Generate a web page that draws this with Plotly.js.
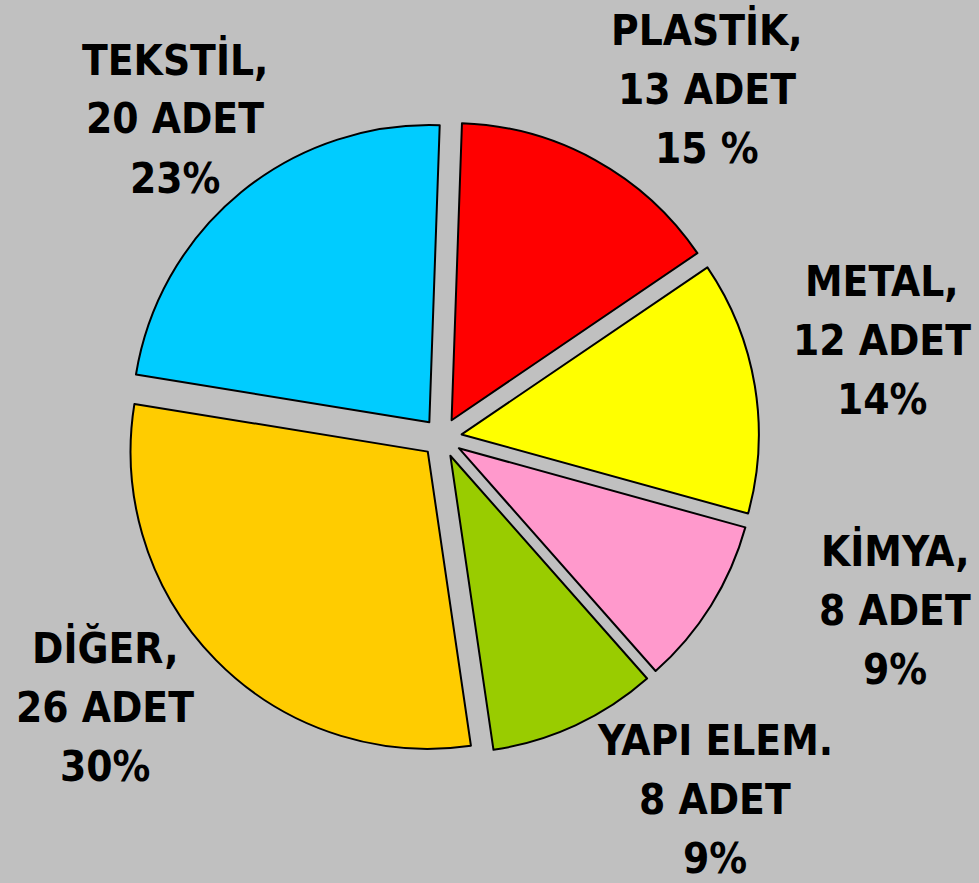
<!DOCTYPE html>
<html>
<head>
<meta charset="utf-8">
<script src="https://cdn.plot.ly/plotly-3.0.1.min.js"></script>
<style>html,body{margin:0;padding:0;background:#c0c0c0;}</style>
</head>
<body>
<div id="chart" style="width:979px;height:883px;"></div>
<script>
// Data
const categories = ["PLASTİK", "METAL", "KİMYA", "YAPI ELEM.", "DİĞER", "TEKSTİL"];
const counts = [13, 12, 8, 8, 26, 20];
const percentLabels = ["15 %", "14%", "9%", "9%", "30%", "23%"];
const colors = ["#FF0000", "#FFFF00", "#FF99CC", "#99CC00", "#FFCC00", "#00CCFF"];

// Label placement (pixel centres of the first text line), style only
const labelPos = [
  {x: 707, y: 30},
  {x: 882, y: 281},
  {x: 895, y: 551},
  {x: 715, y: 740},
  {x: 105, y: 648},
  {x: 175, y: 60}
];
const lineGap = 59;
const W = 979, H = 883;

const annotations = [];
categories.forEach((c, i) => {
  const sep = c.endsWith('.') ? '' : ',';
  const lines = [c + sep, counts[i] + ' ADET', percentLabels[i]];
  lines.forEach((t, k) => {
    annotations.push({
      text: t,
      xref: 'paper', yref: 'paper',
      x: labelPos[i].x / W,
      y: 1 - (labelPos[i].y + k * lineGap) / H,
      xanchor: 'center', yanchor: 'middle',
      showarrow: false,
      font: {family: 'DejaVu Sans Condensed, DejaVu Sans, sans-serif', size: 42, color: '#000', weight: 'bold'}
    });
  });
});

const trace = {
  type: 'pie',
  labels: categories,
  values: counts,
  sort: false,
  direction: 'clockwise',
  rotation: 2,
  pull: counts.map(() => 0.067),
  marker: {colors: colors, line: {color: '#000', width: 2}},
  textinfo: 'none',
  hoverinfo: 'label+value+percent',
  domain: {x: [0.1266, 0.7763], y: [0.1452, 0.8635]}
};

Plotly.newPlot('chart', [trace], {
  width: W, height: H,
  margin: {l: 0, r: 0, t: 0, b: 0},
  paper_bgcolor: '#C0C0C0',
  plot_bgcolor: '#C0C0C0',
  showlegend: false,
  annotations: annotations
}, {displayModeBar: false});
</script>
</body>
</html>
